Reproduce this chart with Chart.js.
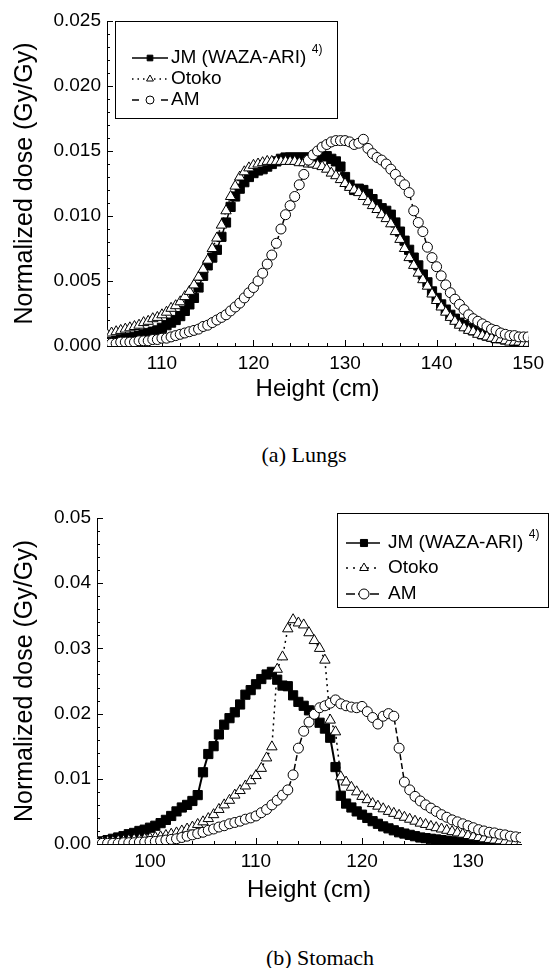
<!DOCTYPE html>
<html>
<head>
<meta charset="utf-8">
<script src="https://cdn.jsdelivr.net/npm/chart.js@4.4.1/dist/chart.umd.min.js"></script>
<style>
    body { margin: 0; background: #fff; width: 550px; height: 968px; position: relative; overflow: hidden; }
    canvas { position: absolute; left: 0; }
    #lungsChart { top: 0; }
    #stomachChart { top: 480px; }
    .caption {
        position: absolute;
        font-family: "Liberation Serif", "Times New Roman", serif;
        font-size: 22px;
        color: #000;
        transform: translate(-50%, -50%);
        white-space: nowrap;
    }
</style>
</head>
<body>
<canvas id="lungsChart" width="550" height="404"></canvas>
<div class="caption" style="left:304px; top:455px;">(a) Lungs</div>
<canvas id="stomachChart" width="550" height="425"></canvas>
<div class="caption" style="left:320px; top:958px;">(b) Stomach</div>

<script>
// ---- data ----
const seriesNames = ['JM (WAZA-ARI)', 'Otoko', 'AM'];
const jmNote = '4)';

// (a) Lungs
const lungsHeight = [
    104, 104.5, 105, 105.5, 106, 106.5, 107, 107.5, 108, 108.5,
    109, 109.5, 110, 110.5, 111, 111.5, 112, 112.5, 113, 113.5,
    114, 114.5, 115, 115.5, 116, 116.5, 117, 117.5, 118, 118.5,
    119, 119.5, 120, 120.5, 121, 121.5, 122, 122.5, 123, 123.5,
    124, 124.5, 125, 125.5, 126, 126.5, 127, 127.5, 128, 128.5,
    129, 129.5, 130, 130.5, 131, 131.5, 132, 132.5, 133, 133.5,
    134, 134.5, 135, 135.5, 136, 136.5, 137, 137.5, 138, 138.5,
    139, 139.5, 140, 140.5, 141, 141.5, 142, 142.5, 143, 143.5,
    144, 144.5, 145, 145.5, 146, 146.5, 147, 147.5, 148, 148.5,
    149, 149.5, 150
];
const lungsJM = [
    0.0004, 0.0004, 0.0005, 0.0005, 0.0006, 0.0006, 0.0007, 0.0008, 0.0009, 0.0010,
    0.0011, 0.0012, 0.0014, 0.0016, 0.0018, 0.0020, 0.0023, 0.0027, 0.0032, 0.0037,
    0.0045, 0.0054, 0.0062, 0.0068, 0.0074, 0.0084, 0.0095, 0.0107, 0.0115, 0.0121,
    0.0126, 0.0130, 0.0133, 0.0135, 0.0136, 0.0138, 0.0140, 0.0142, 0.0144, 0.0145,
    0.0145, 0.0145, 0.0145, 0.0145, 0.0145, 0.0145, 0.0145, 0.0146, 0.0146, 0.0144,
    0.0142, 0.0138, 0.0130, 0.0124, 0.0120, 0.0121, 0.0120, 0.0117, 0.0113, 0.0109,
    0.0106, 0.0104, 0.0101, 0.0095, 0.0088, 0.0081, 0.0074, 0.0068, 0.0062, 0.0055,
    0.0049, 0.0042, 0.0037, 0.0032, 0.0028, 0.0024, 0.0021, 0.0018, 0.0016, 0.0014,
    0.0012, 0.0011, 0.0009, 0.0008, 0.0007, 0.0006, 0.0006, 0.0005, 0.0005, 0.0004,
    0.0004, 0.0004, 0.0003
];
const lungsOtoko = [
    0.0009, 0.0010, 0.0011, 0.0012, 0.0013, 0.0014, 0.0015, 0.0016, 0.0018, 0.0019,
    0.0021, 0.0022, 0.0024, 0.0026, 0.0029, 0.0031, 0.0034, 0.0038, 0.0042, 0.0047,
    0.0053, 0.0059, 0.0066, 0.0075, 0.0083, 0.0093, 0.0104, 0.0115, 0.0123, 0.0130,
    0.0134, 0.0137, 0.0139, 0.0140, 0.0141, 0.0142, 0.0142, 0.0142, 0.0142, 0.0142,
    0.0142, 0.0142, 0.0141, 0.0141, 0.0140, 0.0140, 0.0139, 0.0138, 0.0136, 0.0133,
    0.0131, 0.0128, 0.0125, 0.0122, 0.0120, 0.0118, 0.0115, 0.0111, 0.0108, 0.0105,
    0.0101, 0.0098, 0.0094, 0.0088, 0.0082, 0.0075, 0.0068, 0.0062, 0.0056, 0.0051,
    0.0046, 0.0040, 0.0035, 0.0030, 0.0026, 0.0022, 0.0019, 0.0016, 0.0014, 0.0012,
    0.0011, 0.0009, 0.0008, 0.0007, 0.0006, 0.0005, 0.0005, 0.0004, 0.0003, 0.0003,
    0.0003, 0.0002, 0.0002
];
const lungsAM = [
    0.0002, 0.0002, 0.0002, 0.0003, 0.0003, 0.0003, 0.0003, 0.0004, 0.0004, 0.0004,
    0.0005, 0.0005, 0.0006, 0.0006, 0.0007, 0.0008, 0.0009, 0.0010, 0.0011, 0.0012,
    0.0013, 0.0015, 0.0016, 0.0018, 0.0020, 0.0022, 0.0024, 0.0027, 0.0030, 0.0033,
    0.0037, 0.0041, 0.0045, 0.0050, 0.0056, 0.0063, 0.0070, 0.0079, 0.0090, 0.0101,
    0.0108, 0.0115, 0.0124, 0.0132, 0.0143, 0.0147, 0.0150, 0.0153, 0.0155, 0.0157,
    0.0158, 0.0158, 0.0158, 0.0157, 0.0155, 0.0156, 0.0159, 0.0152, 0.0148, 0.0145,
    0.0143, 0.0140, 0.0136, 0.0132, 0.0127, 0.0124, 0.0118, 0.0104, 0.0095, 0.0088,
    0.0076, 0.0068, 0.0061, 0.0054, 0.0047, 0.0041, 0.0036, 0.0032, 0.0028, 0.0024,
    0.0021, 0.0019, 0.0017, 0.0015, 0.0013, 0.0012, 0.0010, 0.0009, 0.0008, 0.0008,
    0.0007, 0.0007, 0.0007
];
const lungsXTicks = [110, 120, 130, 140, 150];
const lungsYTicks = [0, 0.005, 0.010, 0.015, 0.020, 0.025];

// (b) Stomach
const stomachHeight = [
    95, 95.5, 96, 96.5, 97, 97.5, 98, 98.5, 99, 99.5,
    100, 100.5, 101, 101.5, 102, 102.5, 103, 103.5, 104, 104.5,
    105, 105.5, 106, 106.5, 107, 107.5, 108, 108.5, 109, 109.5,
    110, 110.5, 111, 111.5, 112, 112.5, 113, 113.5, 114, 114.5,
    115, 115.5, 116, 116.5, 117, 117.5, 118, 118.5, 119, 119.5,
    120, 120.5, 121, 121.5, 122, 122.5, 123, 123.5, 124, 124.5,
    125, 125.5, 126, 126.5, 127, 127.5, 128, 128.5, 129, 129.5,
    130, 130.5, 131, 131.5, 132, 132.5, 133, 133.5, 134, 134.5,
    135
];
const stomachJM = [
    0.0003, 0.0004, 0.0006, 0.0008, 0.0010, 0.0012, 0.0015, 0.0017, 0.0020, 0.0022,
    0.0025, 0.0028, 0.0032, 0.0037, 0.0043, 0.0050, 0.0056, 0.0060, 0.0066, 0.0075,
    0.0110, 0.0138, 0.0150, 0.0168, 0.0183, 0.0193, 0.0202, 0.0214, 0.0229, 0.0236,
    0.0245, 0.0253, 0.0260, 0.0264, 0.0252, 0.0243, 0.0242, 0.0228, 0.0218, 0.0212,
    0.0205, 0.0199, 0.0186, 0.0177, 0.0163, 0.0118, 0.0074, 0.0062, 0.0056, 0.0050,
    0.0045, 0.0040, 0.0035, 0.0031, 0.0027, 0.0024, 0.0021, 0.0018, 0.0016, 0.0014,
    0.0012, 0.0010, 0.0009, 0.0008, 0.0007, 0.0006, 0.0005, 0.0004, 0.0003, 0.0003,
    0.0002, 0.0002, 0.0002, 0.0001, 0.0001, 0.0001, 0.0001, 0.0001, 0.0001, 0.0001,
    0.0001
];
const stomachOtoko = [
    0.0003, 0.0003, 0.0004, 0.0004, 0.0005, 0.0005, 0.0006, 0.0007, 0.0007, 0.0008,
    0.0009, 0.0010, 0.0011, 0.0013, 0.0015, 0.0017, 0.0020, 0.0023, 0.0026, 0.0030,
    0.0034, 0.0039, 0.0045, 0.0053, 0.0060, 0.0067, 0.0075, 0.0082, 0.0089, 0.0097,
    0.0105, 0.0116, 0.0132, 0.0149, 0.0268, 0.0287, 0.0330, 0.0344, 0.0339, 0.0336,
    0.0324, 0.0312, 0.0300, 0.0282, 0.0190, 0.0172, 0.0103, 0.0095, 0.0087, 0.0080,
    0.0073, 0.0068, 0.0062, 0.0058, 0.0054, 0.0050, 0.0047, 0.0044, 0.0041, 0.0038,
    0.0035, 0.0032, 0.0030, 0.0027, 0.0025, 0.0023, 0.0021, 0.0019, 0.0017, 0.0015,
    0.0013, 0.0011, 0.0010, 0.0008, 0.0007, 0.0006, 0.0005, 0.0004, 0.0003, 0.0003,
    0.0002
];
const stomachAM = [
    0.0001, 0.0001, 0.0001, 0.0001, 0.0001, 0.0002, 0.0002, 0.0002, 0.0003, 0.0003,
    0.0004, 0.0004, 0.0005, 0.0006, 0.0007, 0.0008, 0.0010, 0.0012, 0.0014, 0.0016,
    0.0018, 0.0021, 0.0023, 0.0026, 0.0028, 0.0031, 0.0033, 0.0035, 0.0038, 0.0040,
    0.0043, 0.0048, 0.0053, 0.0060, 0.0067, 0.0075, 0.0083, 0.0106, 0.0147, 0.0173,
    0.0187, 0.0199, 0.0209, 0.0212, 0.0216, 0.0221, 0.0215, 0.0212, 0.0210, 0.0209,
    0.0211, 0.0203, 0.0194, 0.0184, 0.0196, 0.0200, 0.0196, 0.0147, 0.0095, 0.0083,
    0.0073, 0.0066, 0.0060, 0.0055, 0.0050, 0.0045, 0.0041, 0.0037, 0.0034, 0.0031,
    0.0028, 0.0025, 0.0022, 0.0020, 0.0018, 0.0017, 0.0015, 0.0014, 0.0012, 0.0011,
    0.0010
];
const stomachXTicks = [100, 110, 120, 130];
const stomachYTicks = [0, 0.01, 0.02, 0.03, 0.04, 0.05];

const SANS = '"Liberation Sans", Arial, Helvetica, sans-serif';

// Origin-style inward ticks, major + 4 minor per interval
const innerTicks = {
    id: 'innerTicks',
    beforeDatasetsDraw(chart) {
        const ctx = chart.ctx;
        const { left, bottom } = chart.chartArea;
        ctx.save();
        ctx.strokeStyle = '#000';
        ctx.lineWidth = 1;
        ['x', 'y'].forEach(id => {
            const scale = chart.scales[id];
            const vals = scale.ticks.map(t => t.value);
            const step = vals[1] - vals[0];
            const minor = step / 5;
            const n0 = Math.ceil(scale.min / minor - 1e-6);
            const n1 = Math.floor(scale.max / minor + 1e-6);
            for (let n = n0; n <= n1; n++) {
                const len = (n % 5 === 0) ? 6 : 3;
                const p = Math.round(scale.getPixelForValue(n * minor)) + 0.5;
                ctx.beginPath();
                if (id === 'x') {
                    ctx.moveTo(p, bottom);
                    ctx.lineTo(p, bottom - len);
                } else {
                    ctx.moveTo(left, p);
                    ctx.lineTo(left + len, p);
                }
                ctx.stroke();
            }
        });
        ctx.restore();
    }
};

// boxed legend with line + marker samples
const boxLegend = {
    id: 'boxLegend',
    afterDraw(chart, args, opts) {
        const ctx = chart.ctx;
        const [x0, y0, x1, y1] = opts.box;
        ctx.save();
        ctx.fillStyle = '#fff';
        ctx.fillRect(x0, y0, x1 - x0, y1 - y0);
        ctx.strokeStyle = '#000';
        ctx.lineWidth = 1;
        ctx.strokeRect(x0 + 0.5, y0 + 0.5, x1 - x0, y1 - y0);

        chart.data.datasets.forEach((ds, i) => {
            const y = opts.rows[i];
            ctx.strokeStyle = '#000';
            ctx.lineWidth = 1.5;
            ctx.setLineDash(opts.dash[i]);
            ctx.beginPath();
            ctx.moveTo(opts.lineX[0], y);
            ctx.lineTo(opts.lineX[1], y);
            ctx.stroke();
            ctx.setLineDash([]);

            ctx.fillStyle = ds.pointBackgroundColor;
            ctx.strokeStyle = '#000';
            ctx.lineWidth = 1;
            Chart.helpers.drawPoint(ctx, {
                pointStyle: ds.pointStyle,
                radius: opts.radius,
                rotation: 0,
                borderWidth: 1
            }, opts.markX, y);

            ctx.fillStyle = '#000';
            ctx.font = opts.fontSize + 'px ' + SANS;
            ctx.textBaseline = 'middle';
            ctx.textAlign = 'left';
            ctx.fillText(ds.label, opts.textX, y);
            if (i === 0) {
                const w = ctx.measureText(ds.label + ' ').width;
                ctx.font = '12px ' + SANS;
                ctx.fillText(jmNote, opts.textX + w, y - 8);
            }
        });
        ctx.restore();
    }
};

function makeChart(canvasId, cfg) {
    const datasets = [
        {
            label: seriesNames[0],
            data: cfg.height.map((h, i) => ({ x: h, y: cfg.series[0][i] })),
            borderColor: '#000',
            borderWidth: cfg.jmWidth,
            pointStyle: 'rect',
            pointRadius: cfg.rectRadius,
            pointBackgroundColor: '#000',
            pointBorderColor: '#000',
            pointBorderWidth: 1,
            order: 3
        },
        {
            label: seriesNames[1],
            data: cfg.height.map((h, i) => ({ x: h, y: cfg.series[1][i] })),
            borderColor: '#000',
            borderWidth: 1.5,
            borderDash: cfg.dotDash,
            pointStyle: 'triangle',
            pointRadius: cfg.triRadius,
            pointBackgroundColor: '#fff',
            pointBorderColor: '#000',
            pointBorderWidth: 1,
            order: 2
        },
        {
            label: seriesNames[2],
            data: cfg.height.map((h, i) => ({ x: h, y: cfg.series[2][i] })),
            borderColor: '#000',
            borderWidth: 1.5,
            borderDash: cfg.dashDash,
            pointStyle: 'circle',
            pointRadius: cfg.circRadius,
            pointBackgroundColor: '#fff',
            pointBorderColor: '#000',
            pointBorderWidth: 1,
            order: 1
        }
    ];

    return new Chart(document.getElementById(canvasId), {
        type: 'line',
        data: { datasets },
        plugins: [innerTicks, boxLegend],
        options: {
            responsive: false,
            animation: false,
            events: [],
            layout: { padding: cfg.padding },
            plugins: {
                legend: { display: false },
                tooltip: { enabled: false },
                boxLegend: cfg.legend
            },
            scales: {
                x: {
                    type: 'linear',
                    min: cfg.xRange[0],
                    max: cfg.xRange[1],
                    afterBuildTicks: axis => { axis.ticks = cfg.xTicks.map(v => ({ value: v })); },
                    afterFit: axis => { axis.height = cfg.xAxisHeight; },
                    grid: { display: false, drawTicks: false },
                    border: { display: true, color: '#000', width: 1 },
                    ticks: {
                        color: '#000',
                        font: { family: SANS, size: 19 },
                        padding: 6,
                        maxRotation: 0,
                        autoSkip: false
                    },
                    title: {
                        display: true,
                        text: 'Height (cm)',
                        color: '#000',
                        font: { family: SANS, size: 24 },
                        padding: 0
                    }
                },
                y: {
                    type: 'linear',
                    min: 0,
                    max: cfg.yMax,
                    afterBuildTicks: axis => { axis.ticks = cfg.yTicks.map(v => ({ value: v })); },
                    afterFit: axis => { axis.width = cfg.yAxisWidth; },
                    grid: { display: false, drawTicks: false },
                    border: { display: true, color: '#000', width: 1 },
                    ticks: {
                        color: '#000',
                        font: { family: SANS, size: 19 },
                        padding: 6,
                        callback: v => v.toFixed(cfg.yDigits)
                    },
                    title: {
                        display: true,
                        text: 'Normalized dose (Gy/Gy)',
                        color: '#000',
                        font: { family: SANS, size: 25 },
                        padding: 0
                    }
                }
            }
        }
    });
}

makeChart('lungsChart', {
    height: lungsHeight,
    series: [lungsJM, lungsOtoko, lungsAM],
    xRange: [104, 150],
    xTicks: lungsXTicks,
    yTicks: lungsYTicks,
    yMax: 0.025,
    yDigits: 3,
    padding: { left: 10, top: 21, right: 20, bottom: 0 },
    yAxisWidth: 97,
    xAxisHeight: 58,
    jmWidth: 1.5,
    rectRadius: 6.5,
    triRadius: 6,
    circRadius: 5,
    dotDash: [1.5, 3],
    dashDash: [5, 4],
    legend: {
        box: [115, 21, 337, 118],
        rows: [58, 79, 100],
        lineX: [132, 168],
        markX: 150,
        textX: 171,
        radius: 4,
        fontSize: 19,
        dash: [[], [1.5, 4], [7, 22]]
    }
});

makeChart('stomachChart', {
    height: stomachHeight,
    series: [stomachJM, stomachOtoko, stomachAM],
    xRange: [95, 135],
    xTicks: stomachXTicks,
    yTicks: stomachYTicks,
    yMax: 0.05,
    yDigits: 2,
    padding: { left: 10, top: 38, right: 29, bottom: 0 },
    yAxisWidth: 87,
    xAxisHeight: 61,
    jmWidth: 2,
    rectRadius: 6.5,
    triRadius: 6,
    circRadius: 5,
    dotDash: [2, 4],
    dashDash: [6, 3],
    legend: {
        box: [337, 33, 548, 127],
        rows: [63, 88, 114],
        lineX: [346, 380],
        markX: 364,
        textX: 388,
        radius: 5,
        fontSize: 19,
        dash: [[], [2, 5], [9, 3]]
    }
});
</script>
</body>
</html>
